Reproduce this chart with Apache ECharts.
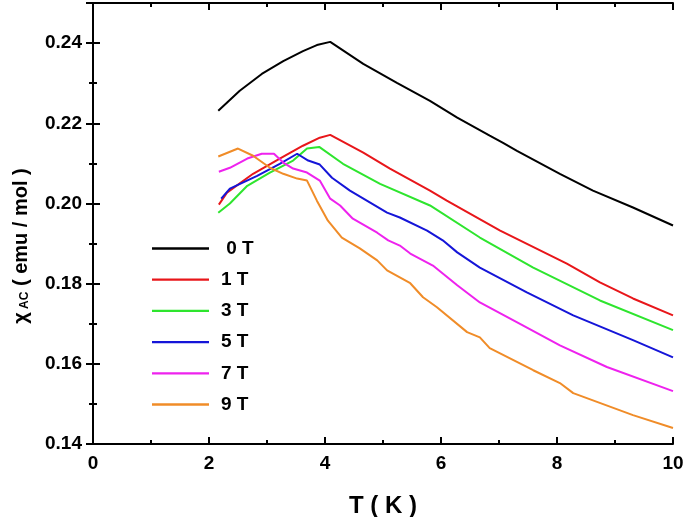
<!DOCTYPE html>
<html>
<head>
<meta charset="utf-8">
<script src="https://cdn.jsdelivr.net/npm/echarts@6/dist/echarts.min.js"></script>
<style>html,body{margin:0;padding:0;background:#fff}#c{width:685px;height:517px}</style>
</head>
<body>
<div id="c"></div>
<script>
var seriesNames = [' 0 T', '1 T', '3 T', '5 T', '7 T', '9 T'];
var seriesColors = ['#000000', '#e8161a', '#2ee52e', '#1515d8', '#ee22ee', '#f08c28'];
var xTicks = [0, 2, 4, 6, 8, 10];
var yTicks = [0.14, 0.16, 0.18, 0.20, 0.22, 0.24];

var data0T = [[2.16,0.2231],[2.53,0.2281],[2.91,0.2323],[3.28,0.2355],[3.62,0.2380],[3.86,0.2395],[4.09,0.2403],[4.66,0.2348],[5.24,0.2301],[5.81,0.2256],[6.28,0.2214],[6.84,0.2169],[7.07,0.2151],[7.31,0.2131],[8.05,0.2074],[8.62,0.2032],[9.31,0.1990],[10,0.1945]];
var data1T = [[2.17,0.1997],[2.31,0.2027],[2.76,0.2074],[3.22,0.2112],[3.62,0.2144],[3.91,0.2164],[4.09,0.2171],[4.66,0.2127],[5.12,0.2087],[5.81,0.2032],[6.10,0.2007],[7.02,0.1932],[8.17,0.1850],[8.74,0.1803],[9.31,0.1763],[10,0.1721]];
var data3T = [[2.16,0.1977],[2.36,0.2000],[2.66,0.2044],[3.05,0.2077],[3.45,0.2107],[3.69,0.2137],[3.90,0.2141],[4.31,0.2099],[4.95,0.2049],[5.81,0.1995],[6.67,0.1915],[7.59,0.1840],[8.74,0.1758],[10,0.1684]];
var data5T = [[2.21,0.2012],[2.36,0.2037],[2.83,0.2069],[3.22,0.2099],[3.52,0.2124],[3.71,0.2107],[3.91,0.2097],[4.12,0.2064],[4.43,0.2032],[5.07,0.1977],[5.29,0.1965],[5.76,0.1932],[6.03,0.1908],[6.28,0.1878],[6.67,0.1840],[7.48,0.1778],[8.28,0.1721],[9.31,0.1659],[10,0.1616]];
var data7T = [[2.17,0.2079],[2.36,0.2089],[2.66,0.2112],[2.91,0.2124],[3.12,0.2124],[3.28,0.2102],[3.45,0.2087],[3.69,0.2077],[3.91,0.2057],[4.09,0.2012],[4.26,0.1995],[4.48,0.1962],[4.90,0.1927],[5.09,0.1908],[5.29,0.1895],[5.47,0.1875],[5.86,0.1845],[6.28,0.1796],[6.67,0.1753],[7.41,0.1696],[8.05,0.1646],[8.86,0.1592],[10,0.1532]];
var data9T = [[2.16,0.2117],[2.50,0.2137],[2.76,0.2119],[3.05,0.2089],[3.28,0.2074],[3.52,0.2062],[3.69,0.2057],[3.86,0.2007],[4.05,0.1957],[4.29,0.1915],[4.60,0.1888],[4.90,0.1858],[5.07,0.1833],[5.47,0.1801],[5.69,0.1766],[5.93,0.1741],[6.45,0.1679],[6.67,0.1666],[6.84,0.1639],[7.59,0.1584],[8.05,0.1552],[8.28,0.1527],[9.31,0.1472],[10,0.1440]];
var allData = [data0T, data1T, data3T, data5T, data7T, data9T];

var FONT = '"Liberation Sans", Arial, sans-serif';
var chart = echarts.init(document.getElementById('c'), null, {renderer: 'canvas'});

var axisLineStyle = {show: true, lineStyle: {color: '#000', width: 2}};
var tickStyle = {show: true, inside: true, length: 7, lineStyle: {color: '#000', width: 2}};
var minorStyle = {show: true, splitNumber: 2, length: 4, lineStyle: {color: '#000', width: 2}};
var lineIcon = 'path://M0,0 L100,0 L100,4 L0,4 Z';

var option = {
  animation: false,
  backgroundColor: '#fff',
  grid: {left: 93, right: 12, top: 3, bottom: 73, containLabel: false, outerBoundsMode: 'none'},
  legend: {
    orient: 'vertical', left: 147, top: 234,
    itemWidth: 57, itemHeight: 14, itemGap: 12.2,
    data: seriesNames.map(function (n) { return {name: n, icon: lineIcon}; }),
    textStyle: {fontFamily: FONT, fontWeight: 'bold', fontSize: 19, color: '#000', padding: [0, 0, 0, 7]}
  },
  xAxis: [{
    type: 'value', min: xTicks[0], max: xTicks[xTicks.length - 1], interval: 2, position: 'bottom',
    name: 'T ( K )', nameLocation: 'middle', nameGap: 50,
    nameTextStyle: {fontFamily: FONT, fontWeight: 'bold', fontSize: 24, color: '#000'},
    axisLine: axisLineStyle, axisTick: tickStyle, minorTick: minorStyle,
    splitLine: {show: false},
    axisLabel: {fontFamily: FONT, fontWeight: 'bold', fontSize: 19, color: '#000', margin: 10}
  }, {
    type: 'value', min: xTicks[0], max: xTicks[xTicks.length - 1], interval: 2, position: 'top',
    axisLine: axisLineStyle, axisTick: tickStyle, minorTick: minorStyle,
    splitLine: {show: false}, axisLabel: {show: false}
  }],
  yAxis: [{
    type: 'value', min: yTicks[0], max: 0.25, interval: 0.02, position: 'left',
    axisLine: axisLineStyle, axisTick: tickStyle, minorTick: minorStyle,
    splitLine: {show: false},
    axisLabel: {fontFamily: FONT, fontWeight: 'bold', fontSize: 19, color: '#000', margin: 11, showMaxLabel: false,
      formatter: function (v) { return v.toFixed(2); }}
  }, {
    type: 'value', min: yTicks[0], max: 0.25, interval: 0.02, position: 'right',
    axisLine: axisLineStyle, axisTick: tickStyle, minorTick: minorStyle,
    splitLine: {show: false}, axisLabel: {show: false}
  }],
  graphic: [{
    type: 'text', x: 21, y: 246, rotation: Math.PI / 2,
    style: {
      text: '{a|χ}{b| AC}{a| ( emu / mol )}',
      textAlign: 'center', textVerticalAlign: 'middle',
      rich: {
        a: {fontFamily: FONT, fontWeight: 'bold', fontSize: 20, fill: '#000', color: '#000'},
        b: {fontFamily: FONT, fontWeight: 'bold', fontSize: 12, fill: '#000', color: '#000', padding: [8, 0, 0, 0]}
      }
    }
  }],
  series: allData.map(function (d, i) {
    return {
      name: seriesNames[i], type: 'line', data: d, symbol: 'none',
      xAxisIndex: 0, yAxisIndex: 0,
      lineStyle: {color: seriesColors[i], width: 2}, itemStyle: {color: seriesColors[i]}
    };
  })
};
chart.setOption(option);
</script>
</body>
</html>
